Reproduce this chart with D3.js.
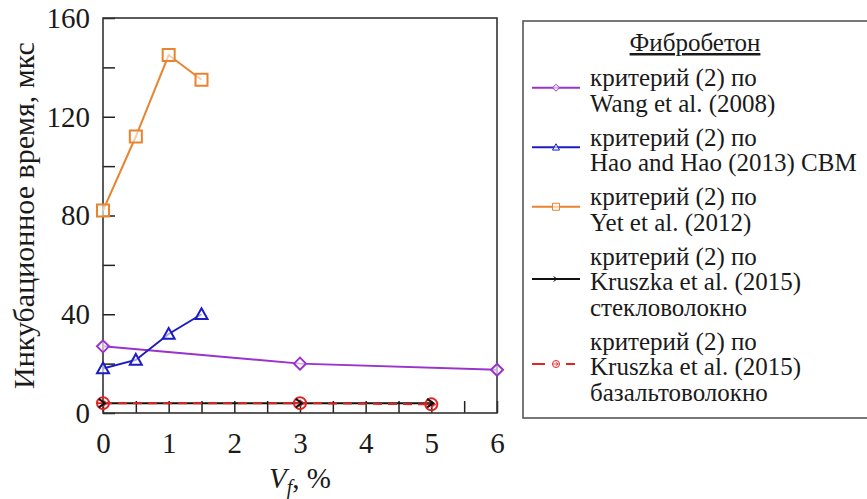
<!DOCTYPE html>
<html>
<head>
<meta charset="utf-8">
<script src="https://cdn.jsdelivr.net/npm/d3@7"></script>
<style>
  html, body { margin: 0; padding: 0; background: #fff; }
  svg { display: block; }
  svg text { font-family: "Liberation Serif", "Tinos", "Times New Roman", "DejaVu Serif", serif; }
</style>
</head>
<body>
<svg id="chart" width="867" height="499"></svg>
<script>
// Fibre-reinforced concrete: incubation time vs fibre volume fraction
const wangX = [0, 3, 6];
const wangY = [27, 20, 17.5];
const haoX = [0, 0.5, 1, 1.5];
const haoY = [18, 21.5, 32, 40];
const yetX = [0, 0.5, 1, 1.5];
const yetY = [82, 112, 145, 135];
const glassX = [0, 3, 5];
const glassY = [4, 4, 4];
const basaltX = [0, 3, 5];
const basaltY = [4, 4, 3.5];

const xTicks = [0, 0.5, 1, 1.5, 2, 2.5, 3, 3.5, 4, 4.5, 5, 5.5, 6];
const xTickLabels = [0, 1, 2, 3, 4, 5, 6];
const yTicks = [0, 20, 40, 60, 80, 100, 120, 140, 160];
const yTickLabels = [0, 40, 80, 120, 160];

const legendTitle = "Фибробетон";
const legendLabels = [
  ["критерий (2) по", "Wang et al. (2008)"],
  ["критерий (2) по", "Hao and Hao (2013) CBM"],
  ["критерий (2) по", "Yet et al. (2012)"],
  ["критерий (2) по", "Kruszka et al. (2015)", "стекловолокно"],
  ["критерий (2) по", "Kruszka et al. (2015)", "базальтоволокно"]
];
const yAxisTitle = "Инкубационное время, мкс";

const series = [
  { xs: wangX, ys: wangY, color: "#9a32cc", marker: "diamond", dash: null },
  { xs: haoX, ys: haoY, color: "#1c1cc4", marker: "triangle", dash: null },
  { xs: yetX, ys: yetY, color: "#e8842e", marker: "square", dash: null },
  { xs: glassX, ys: glassY, color: "#111111", marker: "arrow", dash: null },
  { xs: basaltX, ys: basaltY, color: "#e02424", marker: "circleArrow", dash: "9,6" }
];

const svg = d3.select("#chart");
const plotL = 103, plotR = 497, plotT = 18, plotB = 413;

const x = d3.scaleLinear().domain([0, 6]).range([plotL, plotR]);
const y = d3.scaleLinear().domain([0, 160]).range([plotB, plotT]);

// marker shapes, centred on the origin
function markerPath(type, s) {
  const h = s / 2;
  switch (type) {
    case "diamond": return `M0,${-h}L${h},0L0,${h}L${-h},0Z`;
    case "triangle": return `M0,${-h}L${h},${h * 0.8}L${-h},${h * 0.8}Z`;
    case "square": return `M${-h},${-h}H${h}V${h}H${-h}Z`;
    case "arrow": return `M${-h * 0.7},${-h * 0.7}L${h * 0.3},0L${-h * 0.7},${h * 0.7}`;
    default: return "";
  }
}
function drawMarker(g, type, color, s, sw) {
  if (type === "circleArrow") {
    g.append("circle").attr("r", s / 2).attr("fill", "none")
      .attr("stroke", color).attr("stroke-width", sw);
    g.append("path")
      .attr("d", `M${-s * 0.5},0H${s * 0.35}M${-s * 0.05},${-s * 0.28}L${s * 0.3},0L${-s * 0.05},${s * 0.28}`)
      .attr("fill", "none").attr("stroke", color).attr("stroke-width", sw * 0.8);
  } else {
    g.append("path").attr("d", markerPath(type, s))
      .attr("fill", type === "arrow" ? "none" : "rgba(255,255,255,0.6)")
      .attr("stroke", color).attr("stroke-width", sw)
      .attr("stroke-linejoin", "miter");
  }
}

// axes with inward ticks
const xAxis = d3.axisBottom(x).tickValues(xTicks).tickSizeInner(-12).tickSizeOuter(0)
  .tickPadding(19)
  .tickFormat(d => xTickLabels.includes(d) ? d3.format("d")(d) : "");
const yAxis = d3.axisLeft(y).tickValues(yTicks).tickSizeInner(-12).tickSizeOuter(0)
  .tickPadding(13)
  .tickFormat(d => yTickLabels.includes(d) ? d3.format("d")(d) : "");

const gx = svg.append("g").attr("transform", `translate(0,${plotB})`).call(xAxis);
const gy = svg.append("g").attr("transform", `translate(${plotL},0)`).call(yAxis);
[gx, gy].forEach(g => {
  g.attr("font-family", null).attr("font-size", null);
  g.select(".domain").remove();
  g.selectAll(".tick line").attr("stroke", "#222").attr("stroke-width", 1.5);
  g.selectAll(".tick text").attr("fill", "#1a1a1a").style("font-size", "29px");
});

// plot frame
svg.append("rect").attr("x", plotL).attr("y", plotT)
  .attr("width", plotR - plotL).attr("height", plotB - plotT)
  .attr("fill", "none").attr("stroke", "#333").attr("stroke-width", 1.6);

// series lines and markers
const line = d3.line().x(d => x(d[0])).y(d => y(d[1]));
series.forEach(s => {
  const pts = s.xs.map((v, i) => [v, s.ys[i]]);
  svg.append("path").datum(pts).attr("d", line)
    .attr("fill", "none").attr("stroke", s.color).attr("stroke-width", 2)
    .attr("stroke-dasharray", s.dash);
});
series.slice().reverse().forEach(s => {
  s.xs.forEach((v, i) => {
    const g = svg.append("g").attr("transform", `translate(${x(v)},${y(s.ys[i])})`);
    drawMarker(g, s.marker, s.color, 12, 2);
  });
});

// axis titles
svg.append("text")
  .attr("transform", `translate(34,${(plotT + plotB) / 2}) rotate(-90)`)
  .attr("text-anchor", "middle").attr("fill", "#1a1a1a")
  .style("font-size", "30px").text(yAxisTitle);

const xt = svg.append("text").attr("x", (plotL + plotR) / 2).attr("y", 488)
  .attr("text-anchor", "middle").attr("fill", "#1a1a1a").style("font-size", "29px");
xt.append("tspan").attr("font-style", "italic").text("V");
xt.append("tspan").attr("font-style", "italic").attr("dy", 6).style("font-size", "20px").text("f");
xt.append("tspan").attr("dy", -6).text(", %");

// legend
const lg = svg.append("g");
lg.append("rect").attr("x", 523).attr("y", 21).attr("width", 360).attr("height", 397)
  .attr("fill", "#fff").attr("stroke", "#555").attr("stroke-width", 1.6);
lg.append("text").attr("x", 695).attr("y", 51).attr("text-anchor", "middle")
  .attr("fill", "#1a1a1a").attr("text-decoration", "underline")
  .style("font-size", "25px").text(legendTitle);

const lineH = 25.5, entryGap = 8.5;
let base = 86;
legendLabels.forEach((lines, k) => {
  const first = base;
  lines.forEach((t, j) => {
    lg.append("text").attr("x", 590).attr("y", base + j * lineH)
      .attr("fill", "#1a1a1a").style("font-size", "25px").text(t);
  });
  const last = base + (lines.length - 1) * lineH;
  const my = (first + last) / 2 - 11;
  const s = series[k];
  if (s.dash) {
    lg.append("path").attr("d", `M532,${my}H545`).attr("stroke", s.color).attr("stroke-width", 2);
    lg.append("path").attr("d", `M566,${my}H575`).attr("stroke", s.color).attr("stroke-width", 2);
  } else {
    lg.append("path").attr("d", `M532,${my}H580`).attr("stroke", s.color).attr("stroke-width", 2);
  }
  const mg = lg.append("g").attr("transform", `translate(556,${my})`);
  drawMarker(mg, s.marker, s.color, 7, 1);
  base = last + lineH + entryGap;
});
</script>
</body>
</html>
